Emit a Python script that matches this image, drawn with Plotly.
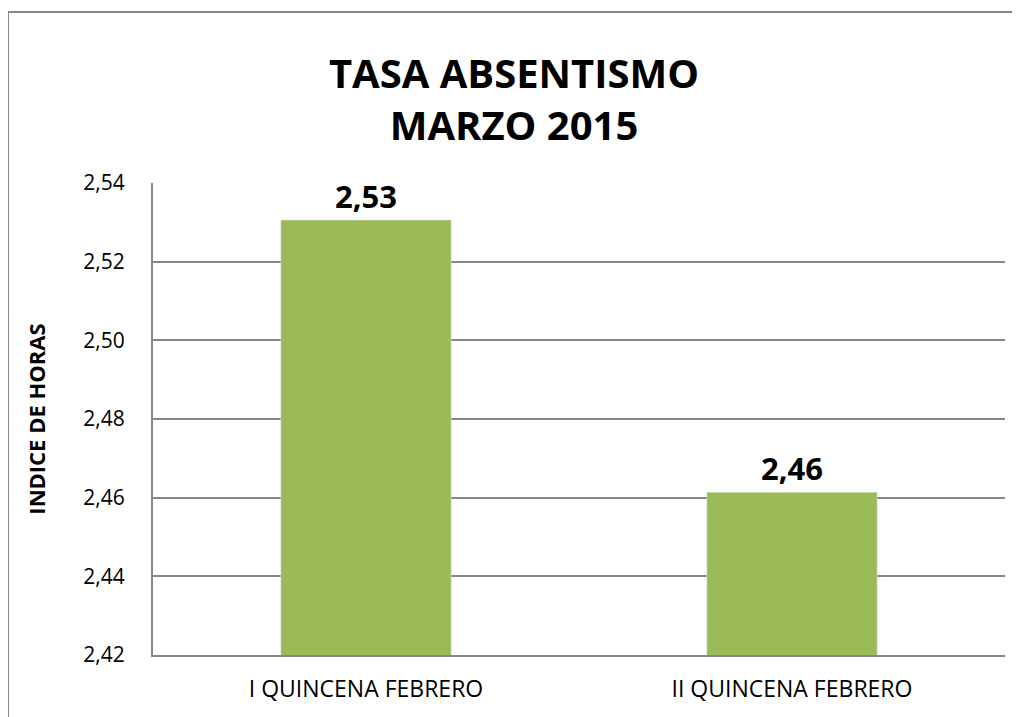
import plotly.graph_objects as go

categories = ["I QUINCENA FEBRERO", "II QUINCENA FEBRERO"]
indice_horas = [2.5306, 2.4614]
y_ticks = [2.42, 2.44, 2.46, 2.48, 2.50, 2.52, 2.54]

FONT = "Open Sans, Liberation Sans, sans-serif"
GRAY = "#868686"

fig = go.Figure(
    go.Bar(
        x=categories,
        y=indice_horas,
        marker_color="#9BBB59",
        texttemplate="%{y:.2f}",
        textposition="outside",
        textfont=dict(size=31, color="black", family=FONT, weight="bold"),
        cliponaxis=False,
    )
)

# outer chart border (left and top edges visible)
fig.add_shape(type="line", xref="paper", yref="paper",
              x0=-0.1702, x1=-0.1702, y0=1.3623, y1=-0.2,
              line=dict(color=GRAY, width=2))
fig.add_shape(type="line", xref="paper", yref="paper",
              x0=-0.1702, x1=1.05, y0=1.3623, y1=1.3623,
              line=dict(color=GRAY, width=2))

# page body adds an 8px offset, so the figure is a bit smaller than the window
fig.update_layout(
    width=1012,
    height=709,
    margin=dict(l=145, r=15, t=175, b=62),
    paper_bgcolor="white",
    plot_bgcolor="white",
    separators=", ",
    bargap=0.6,
    showlegend=False,
    font=dict(family=FONT, color="black"),
    title=dict(
        text="<b>TASA ABSENTISMO<br>MARZO 2015</b>",
        x=506 / 1012,
        xanchor="center",
        y=1 - 80 / 709,
        yanchor="middle",
        font=dict(size=40, family=FONT, color="black"),
    ),
    xaxis=dict(
        showline=True,
        linecolor=GRAY,
        linewidth=2,
        tickfont=dict(size=23),
        ticks="outside",
        ticklen=12,
        tickcolor="white",
    ),
    yaxis=dict(
        range=[2.42, 2.54],
        tickvals=y_ticks,
        tickformat=".2f",
        showline=True,
        linecolor=GRAY,
        linewidth=2,
        showgrid=True,
        gridcolor=GRAY,
        gridwidth=1.5,
        tickfont=dict(size=21),
        ticklabelstandoff=22,
        title=dict(text="<b>INDICE DE HORAS</b>", font=dict(size=22), standoff=32),
    ),
)

fig.write_html("out.html")
